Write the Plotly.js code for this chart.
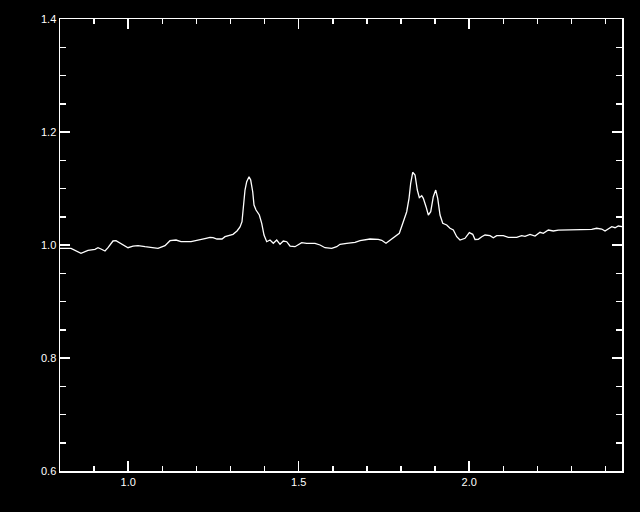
<!DOCTYPE html>
<html>
<head>
<meta charset="utf-8">
<script src="https://cdn.plot.ly/plotly-3.0.1.min.js"></script>
<style>html,body{margin:0;padding:0;background:#000;}#chart{width:640px;height:512px;}</style>
</head>
<body>
<div id="chart"></div>
<script>
const wavelength = [0.800,0.8323,0.8616,0.8821,0.9026,0.9114,0.9202,0.9320,0.9408,0.9554,0.9642,0.9789,0.9994,1.0141,1.0287,1.0493,1.0639,1.0874,1.1079,1.1226,1.1402,1.1548,1.1842,1.1988,1.2135,1.2282,1.2399,1.2487,1.2604,1.2751,1.2839,1.2985,1.3073,1.3191,1.3279,1.3337,1.3375,1.3425,1.3475,1.3543,1.3592,1.3651,1.3689,1.3748,1.3845,1.3915,1.3982,1.4062,1.4158,1.4255,1.4355,1.4452,1.4548,1.4648,1.4745,1.4891,1.5088,1.5235,1.5478,1.5625,1.5771,1.5968,1.6114,1.6211,1.6408,1.6651,1.6798,1.7091,1.7334,1.7434,1.7560,1.7677,1.7824,1.7950,1.8067,1.8167,1.8235,1.8284,1.8343,1.8411,1.8478,1.8537,1.8607,1.8654,1.8733,1.8801,1.8871,1.8947,1.9018,1.9076,1.9144,1.9223,1.9340,1.9437,1.9534,1.9633,1.9730,1.9877,2.0003,2.0103,2.0170,2.0267,2.0367,2.0463,2.0610,2.0707,2.0806,2.1000,2.1147,2.1393,2.1538,2.1636,2.1783,2.1930,2.2076,2.2173,2.2320,2.2466,2.2613,2.2859,2.3152,2.3396,2.3592,2.3736,2.3885,2.3982,2.4079,2.4179,2.4276,2.4372,2.4481];
const flux = [0.994,0.994,0.9853,0.9906,0.9924,0.9952,0.9929,0.9894,0.9952,1.0071,1.0076,1.0030,0.9952,0.9982,0.9988,0.9970,0.9959,0.9942,0.9988,1.0076,1.0088,1.0058,1.0058,1.0076,1.0088,1.0119,1.0136,1.0129,1.0106,1.0106,1.0147,1.0177,1.0189,1.0248,1.0319,1.0412,1.0708,1.0973,1.1120,1.1209,1.1150,1.0943,1.0708,1.0619,1.0531,1.0384,1.0177,1.0058,1.0088,1.0030,1.0088,1.0012,1.0071,1.0058,0.9982,0.9970,1.0041,1.0030,1.0030,1.0000,0.9952,0.9942,0.9970,1.0012,1.0030,1.0048,1.0076,1.0106,1.0101,1.0083,1.0030,1.0088,1.0147,1.0207,1.0412,1.0589,1.0826,1.1092,1.1287,1.1239,1.0973,1.0837,1.0873,1.0826,1.0678,1.0531,1.0589,1.0855,1.0973,1.0826,1.0531,1.0384,1.0354,1.0296,1.0265,1.0147,1.0088,1.0119,1.0218,1.0189,1.0097,1.0101,1.0147,1.0177,1.0165,1.0129,1.0165,1.0165,1.0136,1.0136,1.0165,1.0154,1.0189,1.0159,1.0225,1.0207,1.0265,1.0248,1.0265,1.0265,1.0265,1.0265,1.0278,1.0296,1.0283,1.0248,1.0283,1.0324,1.0306,1.0336,1.0324];
const xRange = [0.8, 2.448];
const yRange = [0.6, 1.4];

const axisCommon = {
  showline: true, linecolor: '#ffffff', linewidth: 1.5, mirror: 'allticks',
  ticks: 'inside', tickcolor: '#ffffff', tickwidth: 1.5, ticklen: 10,
  showgrid: false, zeroline: false, tickformat: '.1f',
  tickfont: {family: 'Liberation Sans, Arial, sans-serif', size: 11, color: '#ffffff'}
};

const layout = {
  width: 640, height: 512,
  paper_bgcolor: '#000000', plot_bgcolor: '#000000',
  margin: {l: 60, r: 18, t: 19, b: 41, pad: 0},
  showlegend: false,
  xaxis: Object.assign({}, axisCommon, {
    range: xRange, tick0: 0.5, dtick: 0.5,
    minor: {dtick: 0.1, ticks: 'inside', ticklen: 5, tickcolor: '#ffffff', tickwidth: 1.5, showgrid: false}
  }),
  yaxis: Object.assign({}, axisCommon, {
    range: yRange, tick0: 0.6, dtick: 0.2,
    minor: {dtick: 0.05, ticks: 'inside', ticklen: 6, tickcolor: '#ffffff', tickwidth: 1.5, showgrid: false}
  })
};

Plotly.newPlot('chart', [{
  x: wavelength, y: flux, type: 'scatter', mode: 'lines',
  line: {color: '#ffffff', width: 1.3}
}], layout, {staticPlot: true});
</script>
</body>
</html>
